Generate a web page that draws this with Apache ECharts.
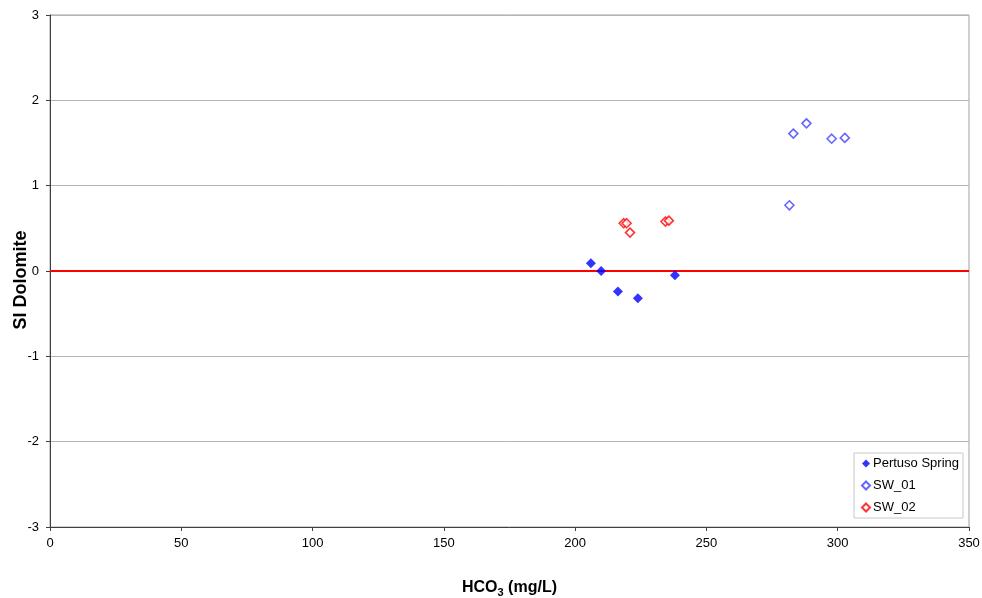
<!DOCTYPE html>
<html><head><meta charset="utf-8">
<script src="https://cdn.jsdelivr.net/npm/echarts@6/dist/echarts.min.js"></script>
<style>html,body{margin:0;padding:0;background:#fff}#c{width:982px;height:598px}</style>
</head><body><div id="c"></div>
<script>
const pertusoSpring = [[206.0,0.09],[209.9,0.0],[216.3,-0.24],[223.9,-0.32],[238.0,-0.05]];
const sw01 = [[283.1,1.61],[288.1,1.73],[297.7,1.55],[302.7,1.56],[281.6,0.77]];
const sw02 = [[218.5,0.56],[219.6,0.56],[220.9,0.45],[234.4,0.58],[235.7,0.59]];
const xTicks = [0,50,100,150,200,250,300,350];
const yTicks = [-3,-2,-1,0,1,2,3];

const chart = echarts.init(document.getElementById('c'));
const font = 'Liberation Sans, Arial, sans-serif';
chart.setOption({
  animation:false,
  grid:{left:50,top:15,right:13,bottom:71,show:true,borderColor:'#a0a0a0',borderWidth:1,containLabel:false,outerBoundsMode:'none'},
  xAxis:{type:'value',min:xTicks[0],max:xTicks[xTicks.length-1],interval:50,
    name:'{b|HCO}{s|3}{b| (mg/L)}',nameLocation:'middle',nameGap:51,nameMoveOverlap:false,
    nameTextStyle:{rich:{b:{fontFamily:font,fontSize:16,fontWeight:'bold',color:'#000'},s:{fontFamily:font,fontSize:11,fontWeight:'bold',color:'#000',verticalAlign:'bottom',padding:[9,0,0,0]}}},
    axisLine:{onZero:false,lineStyle:{color:'#404040',width:1}},
    axisTick:{show:true,length:4,inside:false,lineStyle:{color:'#404040'}},
    axisLabel:{fontFamily:font,fontSize:13,color:'#000',margin:10},
    splitLine:{show:false}},
  yAxis:{type:'value',min:yTicks[0],max:yTicks[yTicks.length-1],interval:1,
    name:'SI Dolomite',nameLocation:'middle',nameGap:20,nameRotate:90,nameMoveOverlap:false,
    nameTextStyle:{fontFamily:font,fontSize:18,fontWeight:'bold',color:'#000',padding:[0,18,0,0]},
    axisLine:{onZero:false,lineStyle:{color:'#404040',width:1}},
    axisTick:{show:true,length:4,lineStyle:{color:'#404040'}},
    axisLabel:{fontFamily:font,fontSize:13,color:'#000',margin:11},
    splitLine:{show:true,lineStyle:{color:'#b4b4b4',width:1}}},
  legend:{orient:'vertical',right:19,bottom:80,itemWidth:8,itemHeight:8,itemGap:9,
    padding:[4,4,4,7],borderColor:'#c8c8c8',borderWidth:1,backgroundColor:'#fff',
    textStyle:{fontFamily:font,fontSize:13,color:'#000',padding:[0,0,0,-2]},
    data:['Pertuso Spring','SW_01','SW_02']},
  series:[
    {name:'Pertuso Spring',type:'scatter',symbol:'diamond',symbolSize:10,
      itemStyle:{color:'#0000ff'},data:pertusoSpring,z:5,
      markLine:{silent:true,symbol:'none',label:{show:false},lineStyle:{color:'#ff0000',width:2,type:'solid'},data:[{yAxis:0}]}},
    {name:'SW_01',type:'scatter',symbol:'diamond',symbolSize:9,
      itemStyle:{color:'#fff',borderColor:'#4040ff',borderWidth:1.6},data:sw01,z:5},
    {name:'SW_02',type:'scatter',symbol:'diamond',symbolSize:9,
      itemStyle:{color:'#fff',borderColor:'#ff0000',borderWidth:1.6},data:sw02,z:5}
  ]
});
</script></body></html>
